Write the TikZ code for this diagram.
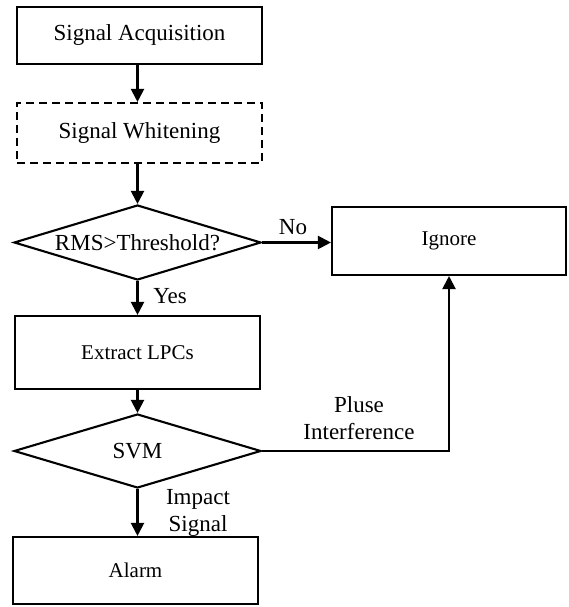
\documentclass[tikz,border=0pt]{standalone}
\usepackage{fontspec}
\setmainfont{Liberation Serif}
\usetikzlibrary{shapes.geometric,arrows.meta}
\begin{document}
\begin{tikzpicture}[x=1pt,y=1pt,
  line width=2.1pt,
  bigtxt/.style={font=\fontsize{23}{27}\selectfont},
  smalltxt/.style={font=\fontsize{21}{25}\selectfont},
  procbox/.style={draw, rectangle, inner sep=0pt, minimum width=245pt},
  decision/.style={draw, diamond, aspect=3.25, inner sep=0pt, minimum width=247pt, minimum height=75pt},
  flow/.style={-{Triangle[length=13pt,width=13pt]}},
  lbl/.style={bigtxt, inner sep=0pt, align=center}
]
\useasboundingbox (0,0) rectangle (568,607);
\node[procbox, bigtxt, minimum height=57pt] (acq) at (139.5,571.5) {Signal Acquisition};
\node[procbox, bigtxt, minimum height=60pt, dash pattern=on 8pt off 5pt] (whit) at (139.5,474) {Signal Whitening};
\node[decision, bigtxt] (rms) at (137.5,364.5) {RMS>Threshold?};
\node[procbox, smalltxt, minimum width=234pt, minimum height=68pt] (ign) at (449,366) {Ignore};
\node[procbox, smalltxt, minimum height=73pt] (ext) at (137.5,254.5) {Extract LPCs};
\node[decision, bigtxt, minimum height=74pt] (svm) at (137.5,156) {SVM};
\node[procbox, smalltxt, minimum height=67pt] (alarm) at (135.5,36.5) {Alarm};

\draw[flow] (acq.south -| rms.north) -- (whit.north -| rms.north);
\draw[flow] (whit.south -| rms.north) -- (rms.north);
\draw[flow] (rms.east) -- (ign.west |- rms.east);
\draw[flow] (rms.south) -- (ext.north -| rms.south);
\draw[flow] (ext.south -| svm.north) -- (svm.north);
\draw[flow] (svm.east) -| (ign.south);
\draw[flow] (svm.south) -- (alarm.north -| svm.south);

\node[lbl] (no) at (293,380) {No};
\node[lbl] (yes) at (170,311) {Yes};
\node[lbl] (pluse) at (359,189) {Pluse\\Interference};
\node[lbl] (impact) at (198,94) {Impact\\Signal};
\end{tikzpicture}
\end{document}
